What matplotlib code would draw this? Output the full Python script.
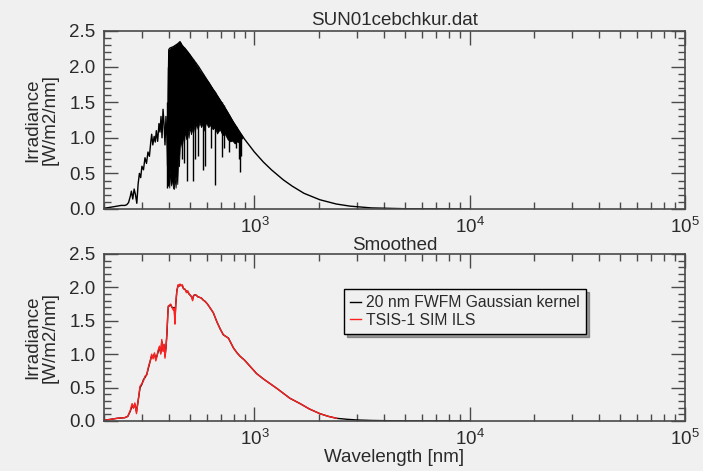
import numpy as np
import matplotlib
matplotlib.use("Agg")
import matplotlib.pyplot as plt
from matplotlib.ticker import MultipleLocator, FixedLocator, FixedFormatter, NullFormatter

plt.rcParams['font.family'] = ['Liberation Sans', 'DejaVu Sans']
plt.rcParams['mathtext.fontset'] = 'custom'
plt.rcParams['mathtext.rm'] = 'Liberation Sans'
plt.rcParams['mathtext.it'] = 'Liberation Sans'

# --- top panel: high resolution spectrum (continuum / upper trace) ---
hires_wl = [200, 210, 220, 230, 240, 250, 255, 260, 265, 268, 272, 276, 280, 284, 288,
            292, 296, 300, 305, 310, 315, 320, 325, 330, 333, 337, 342, 346, 350, 355,
            360, 364, 368, 372, 376, 380, 384, 388, 392, 395, 397, 400, 405, 420, 440,
            451, 460, 480, 500, 550, 600, 644, 700, 743, 798, 850, 900, 1000, 1100,
            1200, 1361, 1500, 1700, 2013, 2400, 2780, 3500, 5000, 10000]
hires_irr = [0.01, 0.02, 0.03, 0.04, 0.05, 0.05, 0.06, 0.09, 0.18, 0.25, 0.14, 0.28, 0.2,
             0.08, 0.35, 0.5, 0.44, 0.6, 0.55, 0.72, 0.64, 0.8, 0.74, 0.95, 1.05, 0.9,
             1.02, 0.94, 1.1, 0.95, 1.2, 1.08, 1.3, 1.0, 1.4, 1.2, 0.9, 1.3, 1.0, 0.6,
             1.6, 2.24, 2.26, 2.28, 2.32, 2.35, 2.3, 2.24, 2.17, 2.0, 1.82, 1.67, 1.5,
             1.38, 1.22, 1.09, 0.98, 0.8, 0.66, 0.55, 0.41, 0.32, 0.22, 0.13, 0.07, 0.04,
             0.015, 0.004, 0.0005]

# dense line forest between ~400 and ~880 nm (lower edge / upper edge)
dense_wl = [398, 402, 406, 410, 414, 418, 422, 426, 430, 434, 438, 442, 446, 450, 455,
            460, 465, 470, 476, 482, 488, 494, 500, 507, 514, 520, 528, 536, 545, 555,
            565, 575, 585, 595, 610, 625, 640, 655, 670, 690, 710, 730, 750, 770, 790,
            810, 830, 850, 865, 880]
dense_low = [0.5, 0.3, 0.55, 0.33, 0.45, 0.3, 0.28, 0.45, 0.3, 0.5, 0.35, 0.7, 0.6, 0.88,
             0.95, 0.85, 1.05, 0.92, 1.1, 0.98, 1.12, 1.0, 1.15, 1.05, 1.12, 1.2, 1.08,
             1.2, 1.12, 1.22, 1.15, 1.2, 1.1, 1.22, 1.15, 1.18, 1.12, 1.15, 1.06, 1.12,
             1.04, 1.05, 0.98, 0.95, 0.96, 0.92, 0.95, 0.93, 0.98, 1.0]
dense_high = [2.22, 2.24, 2.25, 2.27, 2.26, 2.28, 2.29, 2.28, 2.3, 2.31, 2.32, 2.33,
              2.34, 2.35, 2.33, 2.3, 2.28, 2.27, 2.25, 2.23, 2.21, 2.19, 2.17, 2.14,
              2.11, 2.08, 2.05, 2.02, 1.99, 1.95, 1.92, 1.89, 1.86, 1.83, 1.79, 1.74,
              1.69, 1.65, 1.6, 1.54, 1.48, 1.42, 1.36, 1.3, 1.24, 1.19, 1.14, 1.09, 1.05,
              1.02]

# strong absorption lines: wavelength, minimum, top
line_wl = [393, 397, 410, 434, 460, 470, 484, 517, 527, 545, 575, 589, 630, 656, 704,
           720, 760, 820, 850, 857, 866]
line_min = [0.3, 0.32, 0.35, 0.45, 0.7, 0.65, 0.4, 0.4, 0.7, 0.75, 0.55, 0.6, 0.85,
            0.34, 0.73, 0.85, 0.8, 0.85, 0.7, 0.52, 0.75]
line_top = [1.5, 2.0, 2.27, 2.31, 2.3, 2.27, 2.22, 2.1, 2.06, 1.99, 1.89, 1.86, 1.72,
            1.65, 1.5, 1.46, 1.32, 1.17, 1.09, 1.07, 1.05]

# --- bottom panel: smoothed spectra ---
smooth_wl = [200, 210, 220, 230, 240, 250, 258, 265, 270, 274, 278, 283, 288, 294, 300,
             305, 310, 316, 322, 328, 333, 338, 343, 348, 352, 357, 362, 367, 371, 376,
             380, 384, 388, 392, 396, 398, 402, 408, 414, 420, 424, 427, 431, 436, 442,
             447, 451, 456, 462, 468, 476, 483, 490, 497, 504, 510, 516, 521, 527, 538,
             545, 556, 567, 578, 590, 605, 620, 644, 670, 695, 717, 757, 800, 830, 857,
             900, 1023, 1100, 1268, 1462, 1630, 1800, 2013, 2200, 2410, 2700, 3000,
             3500, 4000, 5000, 7000, 10000]
gauss_irr = [0.01, 0.02, 0.03, 0.04, 0.045, 0.05, 0.07, 0.15, 0.23, 0.2, 0.25, 0.14,
             0.3, 0.5, 0.55, 0.62, 0.65, 0.7, 0.8, 0.9, 0.98, 0.95, 1.0, 0.93, 0.97,
             1.04, 1.1, 1.02, 1.19, 1.06, 1.14, 0.97, 1.1, 1.3, 1.62, 1.72, 1.72, 1.74,
             1.7, 1.68, 1.7, 1.5, 1.75, 1.95, 2.03, 2.02, 2.04, 2.03, 2.03, 1.98, 1.97,
             1.94, 1.93, 1.9, 1.88, 1.86, 1.82, 1.87, 1.89, 1.88, 1.86, 1.85, 1.84, 1.81,
             1.79, 1.75, 1.7, 1.62, 1.48, 1.37, 1.29, 1.24, 1.09, 1.02, 0.97, 0.91, 0.71,
             0.63, 0.49, 0.34, 0.26, 0.18, 0.11, 0.07, 0.04, 0.025, 0.015, 0.008, 0.005,
             0.002, 0.0006, 0.0002]
# TSIS-1 SIM covers 200-2410 nm only
tsis_wl = smooth_wl[:85]
tsis_irr = [0.01, 0.02, 0.03, 0.04, 0.045, 0.05, 0.07, 0.16, 0.26, 0.19, 0.27, 0.11,
            0.3, 0.52, 0.56, 0.6, 0.67, 0.69, 0.82, 0.9, 1.0, 0.93, 1.02, 0.9, 0.96,
            1.06, 1.12, 1.0, 1.22, 1.04, 1.15, 0.94, 1.1, 1.32, 1.62, 1.71, 1.73, 1.75,
            1.7, 1.66, 1.69, 1.45, 1.76, 1.95, 2.04, 2.02, 2.05, 2.02, 2.04, 1.98, 1.97,
            1.92, 1.95, 1.9, 1.88, 1.86, 1.8, 1.87, 1.89, 1.88, 1.86, 1.85, 1.84, 1.81,
            1.79, 1.75, 1.7, 1.62, 1.48, 1.37, 1.29, 1.24, 1.09, 1.02, 0.97, 0.91, 0.71,
            0.63, 0.49, 0.34, 0.26, 0.18, 0.11, 0.07, 0.04]

xticks_major = [1e3, 1e4, 1e5]
xtick_labels = [r'$10^{3}$', r'$10^{4}$', r'$10^{5}$']

BG = '#f0f0f0'
AX = '#4a4a4a'
TXT = '#2a2a2a'
FS = 13.5


def style_axes(ax):
    ax.set_facecolor(BG)
    ax.set_xscale('log')
    ax.set_xlim(200, 1e5)
    ax.set_ylim(0, 2.5)
    ax.xaxis.set_major_locator(FixedLocator(xticks_major))
    ax.xaxis.set_major_formatter(FixedFormatter(xtick_labels))
    minors = [m * d for d in (100, 1000, 10000) for m in range(2, 10)]
    ax.xaxis.set_minor_locator(FixedLocator(minors))
    ax.xaxis.set_minor_formatter(NullFormatter())
    ax.yaxis.set_major_locator(MultipleLocator(0.5))
    ax.yaxis.set_minor_locator(MultipleLocator(0.1))
    ax.yaxis.set_major_formatter(plt.FormatStrFormatter('%.1f'))
    ax.tick_params(which='both', direction='in', top=True, right=True,
                   color=AX, labelsize=FS, labelcolor=TXT)
    ax.tick_params(which='major', length=10, width=1.0)
    ax.tick_params(which='minor', length=5, width=1.0)
    ax.tick_params(axis='x', which='major', pad=6)
    ax.tick_params(axis='y', which='major', pad=6)
    for s in ax.spines.values():
        s.set_color(AX)
        s.set_linewidth(1.2)
    ax.set_ylabel('Irradiance\n[W/m2/nm]', fontsize=FS, color=TXT, labelpad=8,
                  linespacing=1.0)


fig = plt.figure(figsize=(7.03, 4.71), dpi=100)
fig.patch.set_facecolor(BG)
ax1 = fig.add_axes([0.148, 0.5563, 0.826, 0.3779])
ax2 = fig.add_axes([0.148, 0.1062, 0.826, 0.3546])

# top panel
ax1.plot(hires_wl, hires_irr, color='black', lw=1.0)
ax1.fill_between(dense_wl, dense_low, dense_high, color='black', lw=0.6)
ax1.vlines(line_wl, line_min, line_top, color='black', lw=1.0)
style_axes(ax1)
ax1.set_title('SUN01cebchkur.dat', fontsize=FS, color=TXT, pad=4)

# bottom panel
ax2.plot(smooth_wl, gauss_irr, color='black', lw=1.0, label='20 nm FWFM Gaussian kernel')
ax2.plot(tsis_wl, tsis_irr, color='#ff2020', lw=1.0, label='TSIS-1 SIM ILS')
style_axes(ax2)
ax2.set_title('Smoothed', fontsize=FS, color=TXT, pad=2)
ax2.set_xlabel('Wavelength [nm]', fontsize=FS, color=TXT, labelpad=0)
leg = ax2.legend(loc='upper left', bbox_to_anchor=(0.413, 0.79), fontsize=11.3,
                 handlelength=0.7, handletextpad=0.3, frameon=True, fancybox=False,
                 shadow=True, borderpad=0.4, labelspacing=0.15, borderaxespad=0)
leg.get_frame().set_edgecolor('black')
leg.get_frame().set_facecolor(BG)
leg.get_frame().set_linewidth(1.0)
for t in leg.get_texts():
    t.set_color(TXT)

fig.savefig('out.png', dpi=100, facecolor=BG)
